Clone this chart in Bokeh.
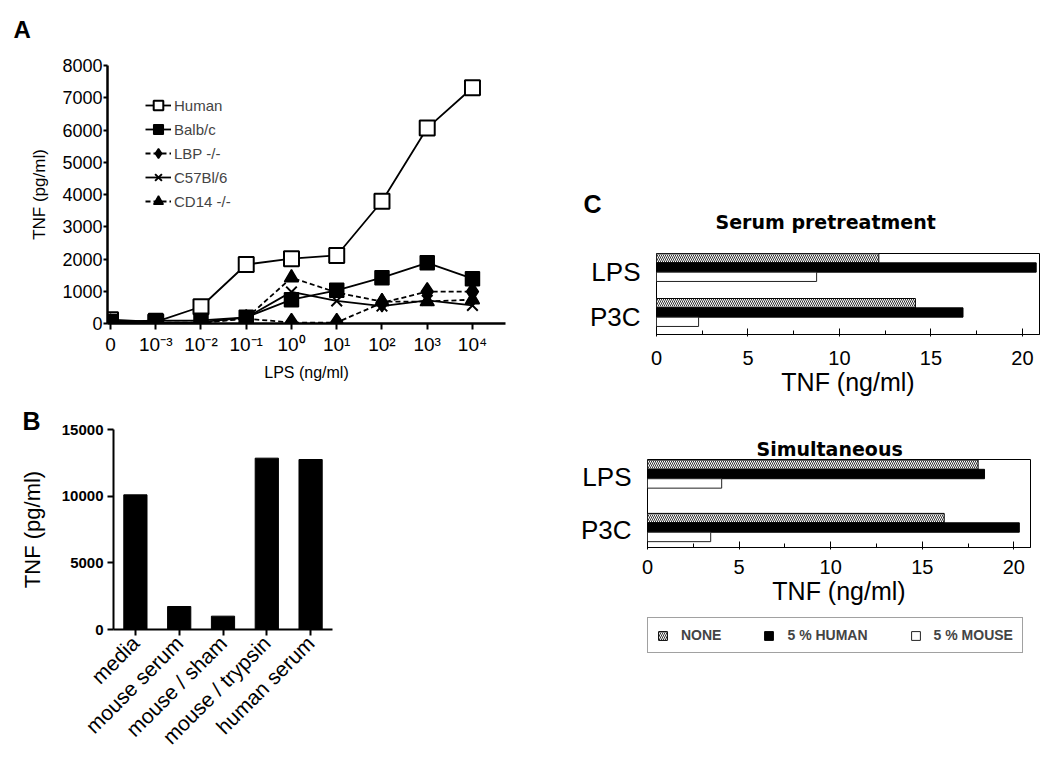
import math
from jinja2 import Template
from bokeh.plotting import figure
from bokeh.models import Range1d, FactorRange, FixedTicker, Legend, LegendItem, Label
from bokeh.transform import dodge
from bokeh.embed import file_html
from bokeh.resources import INLINE

FONT = "Liberation Sans"
TFONT = "DejaVu Sans"

# ---------------- Panel A data ----------------
lps_doses = ["0", "10⁻³", "10⁻²", "10⁻¹", "10⁰", "10¹", "10²", "10³", "10⁴"]
a_series = ["Human", "Balb/c", "LBP -/-", "C57Bl/6", "CD14 -/-"]
tnf_human = [120, 50, 520, 1830, 2010, 2110, 3790, 6060, 7310]
tnf_balbc = [60, 90, 100, 190, 740, 1030, 1420, 1880, 1390]
tnf_lbp = [20, 20, 20, 150, 30, 30, 640, 990, 990]
tnf_c57 = [30, 30, 40, 180, 980, 700, 540, 720, 560]
tnf_cd14 = [30, 30, 30, 160, 1420, 960, 680, 680, 740]
a_yticks = [0, 1000, 2000, 3000, 4000, 5000, 6000, 7000, 8000]

# ---------------- Panel B data ----------------
b_conditions = ["media", "mouse serum", "mouse / sham", "mouse / trypsin", "human serum"]
b_tnf = [10100, 1725, 1000, 12850, 12750]
b_yticks = [0, 5000, 10000, 15000]

# ---------------- Panel C data ----------------
c_stimuli = ["LPS", "P3C"]
c_treatments = ["NONE", "5 % HUMAN", "5 % MOUSE"]
pre_none = [12.15, 14.15]
pre_human = [20.75, 16.75]
pre_mouse = [8.75, 2.3]
sim_none = [18.05, 16.2]
sim_human = [18.4, 20.3]
sim_mouse = [4.05, 3.45]
c_ticks = [0, 5, 10, 15, 20]
c_minor = [2.5, 7.5, 12.5, 17.5]

NONE_STYLE = dict(fill_color="white", line_color="black", line_width=1,
                  hatch_pattern="left_diagonal_line", hatch_color="black", hatch_scale=4, hatch_weight=0.8)
HUMAN_STYLE = dict(fill_color="black", line_color="black", line_width=1)
MOUSE_STYLE = dict(fill_color="white", line_color="#222222", line_width=1)


def base_axis_style(ax):
    ax.axis_line_color = "black"
    ax.major_tick_line_color = "black"
    ax.minor_tick_line_color = None
    ax.major_label_text_color = "black"
    ax.major_label_text_font = FONT
    ax.axis_label_text_color = "black"
    ax.axis_label_text_font = FONT
    ax.axis_label_text_font_style = "normal"


def letter_fig(name, letter, x, y, size):
    # small transparent canvas holding a panel letter (1 data unit = 1 px)
    p = figure(name=name, width=60, height=60, output_backend="svg", toolbar_location=None,
               title=None, x_range=Range1d(0, 60), y_range=Range1d(0, 60),
               x_axis_location=None, y_axis_location=None, min_border=0)
    p.grid.visible = False
    p.outline_line_color = None
    p.background_fill_alpha = 0
    p.border_fill_alpha = 0
    p.add_layout(Label(x=x, y=y, text=letter, text_font=FONT, text_font_size=size,
                       text_font_style="bold", text_baseline="alphabetic", text_color="black"))
    return p


# ================= Panel A =================
x_idx = list(range(len(lps_doses)))
pA = figure(name="panelA", width=545, height=383, output_backend="svg", toolbar_location=None,
            x_range=Range1d(-0.066, 8.73), y_range=Range1d(0, 8000),
            min_border_left=107, min_border_right=40, min_border_top=65, min_border_bottom=60)
pA.grid.visible = False
pA.outline_line_color = None

a_styles = [
    dict(marker="square", size=15, fill="white", dash="solid", lw=2.0),
    dict(marker="square", size=14, fill="black", dash="solid", lw=1.5),
    dict(marker="diamond", size=18, fill="black", dash="5 3", lw=1.5),
    dict(marker="x", size=15, fill="black", dash="solid", lw=2.0),
    dict(marker="triangle", size=14, fill="black", dash="5 3", lw=1.5),
]
a_values = [tnf_human, tnf_balbc, tnf_lbp, tnf_c57, tnf_cd14]
items = []
for name, ys, st in zip(a_series, a_values, a_styles):
    lr = pA.line(x_idx, ys, line_color="black", line_width=1.8, line_dash=st["dash"])
    sr = pA.scatter(x_idx, ys, marker=st["marker"], size=st["size"], fill_color=st["fill"],
                    line_color="black", line_width=st["lw"])
    items.append(LegendItem(label=name, renderers=[lr, sr]))

legA = Legend(items=items, location=(38, 110), orientation="vertical", padding=0, spacing=0, margin=0,
              glyph_width=26, glyph_height=24, label_height=24, label_standoff=3,
              label_text_font=FONT, label_text_font_size="15px",
              background_fill_alpha=0, border_line_color=None)
pA.add_layout(legA)

xa = pA.xaxis[0]
base_axis_style(xa)
xa.ticker = FixedTicker(ticks=x_idx)
xa.major_label_overrides = dict(zip(x_idx, lps_doses))
xa.axis_line_width = 2.5
xa.major_tick_line_width = 2
xa.major_tick_in = 0
xa.major_tick_out = 6
xa.major_label_standoff = 4
xa.major_label_text_font_size = "19px"
xa.axis_label = "LPS (ng/ml)"
xa.axis_label_text_font_size = "16px"
xa.axis_label_standoff = 6

ya = pA.yaxis[0]
base_axis_style(ya)
ya.ticker = FixedTicker(ticks=a_yticks)
ya.axis_line_width = 2.5
ya.major_tick_line_width = 2
ya.major_tick_in = 0
ya.major_tick_out = 4
ya.major_label_standoff = 1
ya.major_label_text_font_size = "18px"
ya.axis_label = "TNF (pg/ml)"
ya.axis_label_text_font_size = "17px"
ya.axis_label_standoff = 10

# ================= Panel B =================
pB = figure(name="panelB", width=545, height=386, output_backend="svg", toolbar_location=None,
            x_range=FactorRange(factors=b_conditions, range_padding=0), y_range=Range1d(0, 15000),
            min_border_left=113, min_border_right=213, min_border_top=46, min_border_bottom=140)
pB.grid.visible = False
pB.outline_line_color = None
pB.vbar(x=b_conditions, top=b_tnf, width=0.53, fill_color="black", line_color="black")

bx = pB.xaxis[0]
base_axis_style(bx)
bx.axis_line_width = 2
bx.major_tick_line_width = 2
bx.major_tick_in = 0
bx.major_tick_out = 6
bx.major_label_standoff = 4
bx.major_label_orientation = math.pi / 4
bx.major_label_text_font_size = "21px"

by = pB.yaxis[0]
base_axis_style(by)
by.ticker = FixedTicker(ticks=b_yticks)
by.axis_line_width = 2
by.major_tick_line_width = 2
by.major_tick_in = 0
by.major_tick_out = 6
by.major_label_standoff = 4
by.major_label_text_font_size = "15px"
by.major_label_text_font_style = "bold"
by.axis_label = "TNF (pg/ml)"
by.axis_label_text_font_size = "22px"
by.axis_label_standoff = 14


# ================= Panel C =================
def c_panel(name, height, title, none_v, human_v, mouse_v, top, bottom, left, right,
            xend, pad, offsets, bar_h, title_offset, title_standoff, tick_standoff):
    p = figure(name=name, width=502, height=height, output_backend="svg", toolbar_location=None,
               x_range=Range1d(0, xend),
               y_range=FactorRange(factors=list(reversed(c_stimuli)), range_padding=pad,
                                   range_padding_units="absolute"),
               min_border_left=left, min_border_right=right, min_border_top=top,
               min_border_bottom=bottom, title=title)
    p.grid.visible = False
    p.outline_line_color = "black"
    p.outline_line_width = 1
    src = dict(stim=c_stimuli, none=none_v, human=human_v, mouse=mouse_v)
    p.hbar(y=dodge("stim", offsets[0], range=p.y_range), right="none", height=bar_h, source=src, **NONE_STYLE)
    p.hbar(y=dodge("stim", offsets[1], range=p.y_range), right="human", height=bar_h, source=src, **HUMAN_STYLE)
    p.hbar(y=dodge("stim", offsets[2], range=p.y_range), right="mouse", height=bar_h, source=src, **MOUSE_STYLE)

    p.title.text_font = TFONT
    p.title.text_font_size = "19px"
    p.title.text_font_style = "bold"
    p.title.text_color = "black"
    p.title.align = "left"
    p.title.offset = title_offset
    p.title.standoff = title_standoff

    cx = p.xaxis[0]
    base_axis_style(cx)
    cx.ticker = FixedTicker(ticks=c_ticks, minor_ticks=c_minor)
    cx.minor_tick_line_color = "black"
    cx.major_tick_in = 6
    cx.major_tick_out = 2
    cx.minor_tick_in = 4
    cx.minor_tick_out = 0
    cx.major_label_standoff = tick_standoff
    cx.major_label_text_font_size = "20px"
    cx.axis_label = "TNF (ng/ml)"
    cx.axis_label_text_font_size = "25px"
    cx.axis_label_standoff = 0

    cy = p.yaxis[0]
    base_axis_style(cy)
    cy.axis_line_color = None
    cy.major_tick_line_color = None
    cy.major_tick_in = 0
    cy.major_tick_out = 0
    cy.major_label_standoff = 16
    cy.major_label_text_font_size = "26px"
    return p


pC1 = c_panel("panelC1", 402, "Serum pretreatment", pre_none, pre_human, pre_mouse,
              top=253, bottom=68, left=108, right=11, xend=20.93,
              pad=-0.1, offsets=(0.296, 0.089, -0.118), bar_h=0.207,
              title_offset=59, title_standoff=41, tick_standoff=14)

pC2 = c_panel("panelC2", 213, "Simultaneous", sim_none, sim_human, sim_mouse,
              top=57, bottom=68, left=99, right=20, xend=20.91,
              pad=-0.1775, offsets=(0.227, 0.051, -0.125), bar_h=0.176,
              title_offset=109, title_standoff=0, tick_standoff=10)

# ---- legend canvas for panel C (bars kept outside its visible x range) ----
pL = figure(name="legendC", width=502, height=154, output_backend="svg", toolbar_location=None,
            title=None, x_range=Range1d(-2, -1), y_range=FactorRange(factors=c_stimuli),
            x_axis_location=None, y_axis_location=None, min_border=0)
pL.grid.visible = False
pL.outline_line_color = None
lsrc = dict(stim=c_stimuli, none=sim_none, human=sim_human, mouse=sim_mouse)
ln = pL.hbar(y="stim", right="none", height=0.2, source=lsrc, **NONE_STYLE)
lh = pL.hbar(y="stim", right="human", height=0.2, source=lsrc, **HUMAN_STYLE)
lm = pL.hbar(y="stim", right="mouse", height=0.2, source=lsrc, **MOUSE_STYLE)
legC = Legend(items=[LegendItem(label=lab, renderers=[r]) for lab, r in zip(c_treatments, [ln, lh, lm])],
              location=(99, 116), orientation="horizontal", padding=9, spacing=42, margin=0,
              glyph_width=11, glyph_height=11, label_height=14, label_standoff=13,
              label_text_font=FONT, label_text_font_size="14px", label_text_font_style="bold",
              border_line_color="#444444", border_line_width=1.2, background_fill_color="white")
pL.add_layout(legC)

fA = letter_fig("letterA", "A", 13, 31, "24px")
fB = letter_fig("letterB", "B", 22, 30, "25px")
fC = letter_fig("letterC", "C", 23, 37, "25px")

PAGE = Template("""{% extends base %}
{% block contents %}
{% from macros import embed %}
<div style="position:absolute;left:0px;top:0px;">{{ embed(roots.panelA) }}</div>
<div style="position:absolute;left:0px;top:383px;">{{ embed(roots.panelB) }}</div>
<div style="position:absolute;left:548px;top:0px;">{{ embed(roots.panelC1) }}</div>
<div style="position:absolute;left:548px;top:402px;">{{ embed(roots.panelC2) }}</div>
<div style="position:absolute;left:548px;top:615px;">{{ embed(roots.legendC) }}</div>
<div style="position:absolute;left:0px;top:0px;">{{ embed(roots.letterA) }}</div>
<div style="position:absolute;left:0px;top:390px;">{{ embed(roots.letterB) }}</div>
<div style="position:absolute;left:560px;top:180px;">{{ embed(roots.letterC) }}</div>
{% endblock %}
""")

roots = [pA, pB, pC1, pC2, pL, fA, fB, fC]
open("out.html", "w").write(file_html(roots, INLINE, template=PAGE))
